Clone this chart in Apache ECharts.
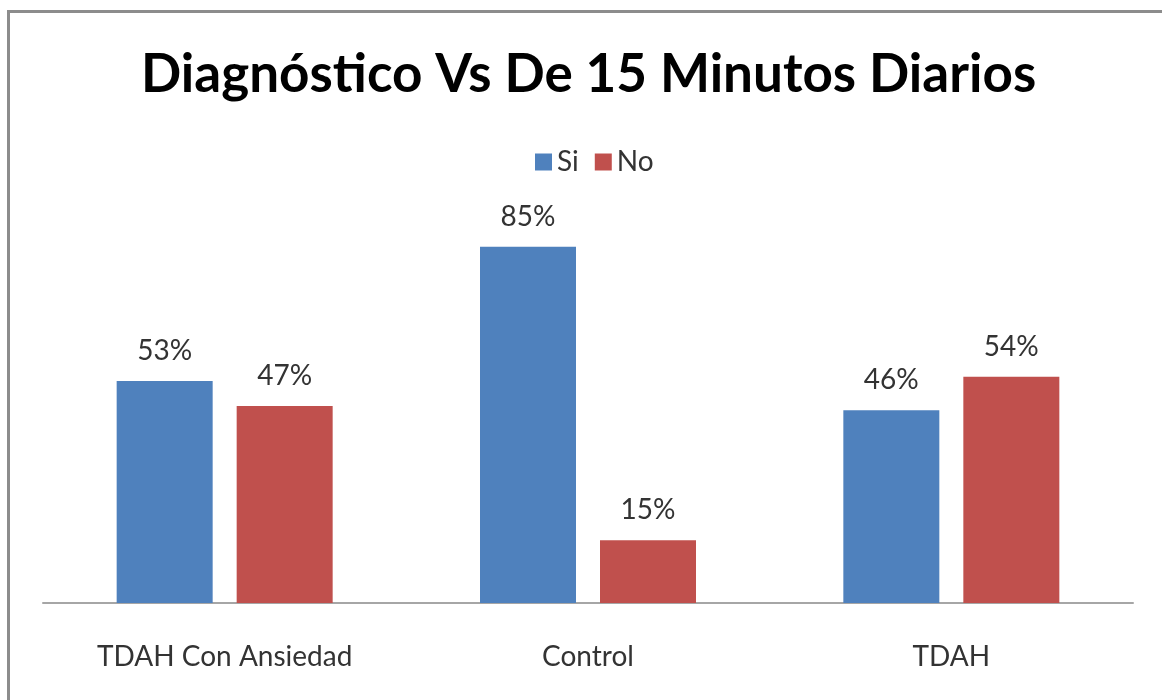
<!DOCTYPE html>
<html><head><meta charset="utf-8">
<script src="https://cdn.jsdelivr.net/npm/echarts@6/dist/echarts.min.js"></script>
<style>html,body{margin:0;padding:0;background:#fff}#c{width:1162px;height:700px}</style>
</head><body><div id="c"></div>
<script>
var categories = ['TDAH Con Ansiedad', 'Control', 'TDAH'];
var siValues = [53, 85, 46];
var noValues = [47, 15, 54];
var seriesNames = ['Si', 'No'];
var titleText = 'Diagnóstico Vs De 15 Minutos Diarios';

var chart = echarts.init(document.getElementById('c'));
var font = 'Lato, "Open Sans", sans-serif';
chart.setOption({
  animation: false,
  backgroundColor: '#fff',
  graphic: [{
    type: 'rect', shape: {x: 8.5, y: 11.5, width: 1200, height: 720},
    style: {fill: 'none', stroke: '#8c8c8c', lineWidth: 3}
  }],
  title: {
    text: titleText, left: 136, top: 43,
    textStyle: {fontFamily: font, fontWeight: 'bold', fontSize: 53, color: '#000'}
  },
  legend: {
    data: seriesNames, top: 143, left: 530, itemWidth: 17, itemHeight: 17, itemGap: 16,
    icon: 'rect',
    textStyle: {fontFamily: font, fontSize: 28, color: '#333'}
  },
  grid: {left: 43, right: 29, top: 184, bottom: 97},
  xAxis: {
    type: 'category', data: categories,
    axisLine: {lineStyle: {color: '#a6a6a6', width: 2}},
    axisTick: {show: false},
    axisLabel: {fontFamily: font, fontSize: 28, color: '#333', margin: 40}
  },
  yAxis: {type: 'value', min: 0, max: 100, show: false, splitLine: {show: false}},
  series: [{
    name: seriesNames[0], type: 'bar', data: siValues, barWidth: 96, barGap: '25%',
    itemStyle: {color: '#4F81BD'},
    label: {show: true, position: 'top', distance: 16, formatter: '{c}%', fontFamily: font, fontSize: 28, color: '#333'}
  }, {
    name: seriesNames[1], type: 'bar', data: noValues, barWidth: 96,
    itemStyle: {color: '#C0504D'},
    label: {show: true, position: 'top', distance: 16, formatter: '{c}%', fontFamily: font, fontSize: 28, color: '#333'}
  }]
});
</script></body></html>
